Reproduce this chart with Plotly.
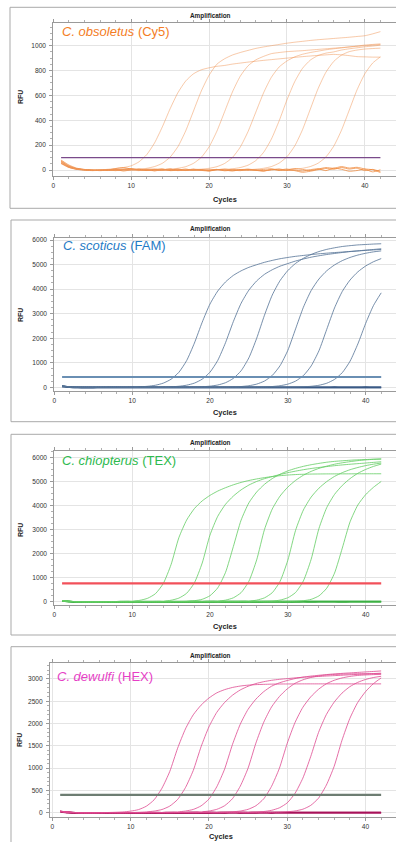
import plotly.graph_objects as go

W, H = 396, 842
FONT = "Liberation Sans, Arial, sans-serif"

CYCLES = [1, 2, 3, 4, 5, 6, 7, 8, 9, 10, 11, 12, 13, 14, 15, 16, 17, 18, 19, 20, 21,
          22, 23, 24, 25, 26, 27, 28, 29, 30, 31, 32, 33, 34, 35, 36, 37, 38, 39, 40, 41, 42]

# ---------------- Panel 1: C. obsoletus (Cy5) ----------------
CY5_1 = [75, 35, 12, 4, 0, 0, 6, 12, 20, 34, 66, 124, 218, 347, 493, 622, 716, 774, 806, 822, 834,
         841, 852, 860, 868, 875, 882, 888, 894, 900, 906, 912, 917, 922, 926, 930, 926, 920, 912, 910, 908, 908]
CY5_2 = [60, 25, 8, 2, -2, 0, -4, 3, 2, 4, 7, 14, 28, 54, 104, 188, 315, 475, 635, 762, 851,
         895, 925, 945, 962, 978, 990, 1000, 1010, 1020, 1028, 1035, 1042, 1048, 1053, 1058, 1063, 1068, 1074, 1080, 1095, 1113]
CY5_3 = [50, 20, 5, 0, -5, -2, 0, -3, 5, 8, 2, -4, 6, 3, 7, 14, 27, 54, 102, 186, 312,
         470, 628, 754, 838, 886, 914, 936, 945, 952, 956, 960, 965, 970, 975, 980, 985, 990, 995, 1000, 1005, 1010]
CY5_4 = [65, 28, 10, 3, -1, -3, 2, 6, -2, 4, 10, 3, -5, 2, 8, -3, 0, 4, 7, 14, 27,
         53, 101, 184, 309, 465, 621, 746, 829, 877, 910, 931, 945, 956, 967, 975, 982, 990, 997, 1005, 1010, 1015]
CY5_5 = [70, 30, 9, 2, 0, -4, 0, 4, 10, -2, 5, 0, -6, 4, 2, 9, -2, 3, -4, 6, 0,
         5, 10, 20, 39, 76, 142, 249, 396, 564, 711, 818, 884, 921, 940, 950, 965, 975, 983, 991, 997, 1004]
CY5_6 = [55, 22, 7, 1, -3, 1, -2, 5, 0, 3, -5, 8, 2, -3, 5, 0, -4, 7, 1, -6, 3,
         0, 6, -3, 2, 7, 14, 28, 56, 107, 194, 325, 490, 655, 786, 873, 924, 952, 965, 973, 977, 980]
CY5_7 = [62, 26, 9, 2, -2, 0, 3, -1, 6, 2, -4, 5, 9, -2, 4, -5, 2, 6, -3, 0, 5,
         -4, 2, -2, 8, 0, -6, 4, 10, -3, 7, 14, 28, 55, 105, 191, 320, 482, 645, 774, 860, 910]
CY5_NTC_1 = [70, 30, 10, 3, -2, 0, -3, 5, -8, 2, 6, -4, 3, 10, -5, 0, 8, -3, 2, -6, 4,
             0, -8, 3, 6, -2, -10, 5, 0, 8, -5, -18, -10, 3, 12, 6, 20, 8, 15, -5, 5, -12]
CY5_NTC_2 = [55, 22, 6, 0, -4, -2, 2, -5, 4, 12, 0, 5, -6, 2, 8, -4, 0, 6, -3, -8, 2,
             8, 0, -5, 4, -2, 5, 10, -4, 2, 12, 5, -4, 8, 20, 14, 28, 16, 22, 8, -15, 2]
CY5_NTC_3 = [80, 40, 15, 5, 0, -5, 0, 12, 20, 8, 2, -3, 4, 0, -2, 6, -4, 0, 3, -2, 5,
             -6, 0, 4, -3, 2, -5, 0, 6, -4, 0, -8, 3, 10, -5, 15, 6, -10, -4, 8, 2, -20]
CY5_THRESHOLD = 100

# ---------------- Panel 2: C. scoticus (FAM) ----------------
FAM_1 = [60, 15, 2, -3, -5, -4, -2, 0, 3, 11, 21, 42, 85, 170, 329, 610, 1087, 1802, 2650, 3392, 3922,
         4293, 4558, 4744, 4887, 4993, 5091, 5169, 5237, 5289, 5335, 5371, 5407, 5438, 5464, 5489, 5509, 5534, 5555, 5575, 5595, 5615]
FAM_2 = [55, 12, 0, -4, -6, -3, -1, 2, 0, -2, 3, 5, 8, 11, 21, 43, 86, 171, 332, 615, 1097,
         1819, 2675, 3424, 3959, 4334, 4601, 4788, 4933, 5040, 5144, 5227, 5300, 5357, 5409, 5451, 5492, 5528, 5558, 5589, 5614, 5644]
FAM_3 = [45, 10, -2, -5, -3, 0, 2, -1, -4, -2, 1, 3, 0, -2, 3, 6, 9, 12, 23, 47, 94,
         188, 364, 675, 1203, 1996, 2935, 3757, 4344, 4755, 5048, 5254, 5412, 5530, 5618, 5682, 5735, 5770, 5800, 5817, 5835, 5847]
FAM_4 = [50, 12, 0, -3, -5, -2, 1, 0, -3, -1, 2, 0, -2, 1, 3, 0, -2, 2, 4, 6, 8,
         10, 17, 32, 65, 130, 255, 482, 879, 1503, 2381, 3260, 3941, 4411, 4746, 4984, 5160, 5290, 5387, 5460, 5517, 5557]
FAM_5 = [48, 10, -1, -4, -4, -2, 0, 1, -2, 0, 2, 1, -1, -3, 0, 2, 1, -1, 0, 2, 1,
         3, 2, 4, 6, 10, 17, 32, 65, 129, 253, 478, 871, 1489, 2360, 3232, 3906, 4372, 4704, 4940, 5114, 5243]
FAM_6 = [52, 14, 1, -3, -5, -3, -1, 0, -2, 1, 2, 0, -1, -2, 1, 3, 1, 0, -2, 0, 2,
         1, 0, 2, 3, 1, 2, 4, 5, 7, 10, 21, 42, 83, 166, 322, 598, 1066, 1768, 2600, 3328, 3848]
FAM_NTC_1 = [40, 8, -3, -6, -5, -4, -3, -2, -3, -2, -1, -2, -3, -2, -1, -2, -3, -2, -1, -2, -1,
             -2, -3, -2, -1, 0, -1, -2, -1, 0, 1, 0, -1, 0, 1, 2, 1, 0, 1, 2, 1, 0]
FAM_NTC_2 = [35, 5, -5, -8, -7, -6, -5, -5, -4, -4, -5, -4, -3, -4, -5, -4, -3, -4, -3, -2, -3,
             -4, -3, -2, -3, -2, -1, -2, -3, -2, -1, -2, -1, 0, -1, -2, -1, 0, -1, 0, 1, 0]
FAM_THRESHOLD = 420

# ---------------- Panel 3: C. chiopterus (TEX) ----------------
TEX_1 = [40, 12, 2, -2, -3, -1, 2, 5, 11, 21, 59, 144, 336, 757, 1546, 2665, 3400, 3880, 4200, 4430, 4610,
         4750, 4870, 4970, 5050, 5115, 5170, 5215, 5250, 5278, 5298, 5310, 5318, 5322, 5325, 5326, 5327, 5328, 5329, 5330, 5330, 5330]
TEX_2 = [45, 14, 3, -1, -3, -2, 0, 2, 1, 3, 4, 6, 11, 22, 61, 150, 350, 788, 1610, 2775, 3560,
         4060, 4400, 4660, 4860, 5010, 5125, 5215, 5300, 5375, 5440, 5500, 5550, 5593, 5630, 5667, 5699, 5727, 5753, 5778, 5805, 5830]
TEX_3 = [42, 12, 2, -2, -4, -2, 0, 1, -1, 0, 2, 1, 3, 4, 6, 9, 18, 42, 101, 250, 578,
         1222, 2295, 3400, 4120, 4570, 4890, 5130, 5310, 5450, 5555, 5640, 5708, 5763, 5811, 5847, 5871, 5894, 5912, 5924, 5936, 5942]
TEX_4 = [44, 13, 2, -3, -4, -2, 0, 2, 0, -1, 1, 3, 2, 0, 1, 3, 4, 5, 6, 12, 24,
         66, 162, 379, 853, 1743, 3005, 3860, 4400, 4775, 5055, 5270, 5430, 5555, 5649, 5728, 5788, 5836, 5878, 5908, 5932, 5950]
TEX_5 = [46, 14, 3, -2, -3, -1, 1, 0, -2, 0, 2, 1, -1, 0, 2, 3, 1, 2, 4, 3, 5,
         4, 6, 12, 24, 65, 161, 375, 845, 1726, 2975, 3820, 4360, 4730, 5005, 5220, 5378, 5500, 5593, 5670, 5730, 5777]
TEX_6 = [43, 12, 1, -3, -4, -3, -1, 1, 0, -2, 0, 2, 1, 0, 2, 1, 3, 2, 1, 3, 4,
         2, 3, 4, 5, 6, 12, 24, 67, 165, 384, 866, 1769, 3050, 3920, 4470, 4845, 5130, 5350, 5510, 5637, 5734]
TEX_7 = [41, 11, 1, -3, -5, -3, -2, 0, 1, -1, 0, 2, 0, -1, 1, 2, 0, 1, 3, 2, 1,
         3, 2, 4, 3, 5, 4, 6, 7, 9, 17, 41, 99, 244, 563, 1189, 2233, 3330, 4030, 4460, 4765, 5011]
TEX_NTC_1 = [38, 6, -4, -6, -5, -4, -3, -3, -2, -3, -2, -1, -2, -3, -2, -1, -2, -1, -2, -1, 0,
             -1, -2, -1, 0, -1, 0, 1, 0, -1, 0, 1, 2, 1, 0, 1, 2, 1, 2, 1, 2, 1]
TEX_NTC_2 = [32, 4, -6, -8, -7, -6, -6, -5, -5, -4, -5, -4, -3, -4, -3, -4, -3, -2, -3, -2, -3,
             -2, -1, -2, -3, -2, -1, -2, -1, 0, -1, 0, -1, 0, 1, 0, -1, 0, 1, 0, 1, 0]
TEX_THRESHOLD = 760

# ---------------- Panel 4: C. dewulfi (HEX) ----------------
HEX_1 = [30, 10, 2, -1, 0, 2, 4, 9, 17, 35, 69, 145, 289, 549, 925, 1445, 1879, 2196, 2413, 2572, 2688,
         2760, 2809, 2841, 2861, 2873, 2879, 2884, 2887, 2888, 2889, 2890, 2890, 2890, 2890, 2890, 2890, 2890, 2890, 2890, 2890, 2890]
HEX_2 = [32, 11, 2, -2, -1, 0, 1, 2, 3, 4, 9, 18, 36, 71, 148, 296, 562, 947, 1480, 1924, 2250,
         2472, 2634, 2753, 2836, 2897, 2939, 2970, 2992, 3008, 3024, 3038, 3047, 3056, 3066, 3075, 3084, 3094, 3103, 3112, 3121, 3130]
HEX_3 = [28, 9, 1, -2, -2, 0, 1, 0, 2, 1, 2, 3, 4, 5, 9, 18, 37, 73, 153, 305, 580,
         976, 1525, 1983, 2318, 2547, 2715, 2837, 2913, 2965, 3009, 3041, 3064, 3082, 3098, 3114, 3125, 3136, 3147, 3158, 3169, 3180]
HEX_4 = [30, 10, 1, -2, -1, 0, 2, 1, 0, 2, 1, 3, 2, 3, 4, 4, 5, 9, 19, 37, 75,
         156, 312, 593, 998, 1560, 2028, 2371, 2605, 2777, 2902, 2980, 3033, 3067, 3089, 3101, 3108, 3114, 3117, 3117, 3118, 3118]
HEX_5 = [29, 9, 1, -2, -2, -1, 1, 0, 1, 2, 0, 1, 3, 2, 1, 3, 4, 3, 4, 5, 5,
         9, 19, 37, 75, 156, 311, 591, 995, 1555, 2022, 2364, 2597, 2768, 2892, 2970, 3023, 3057, 3079, 3091, 3098, 3104]
HEX_6 = [31, 10, 2, -1, -2, 0, 1, 2, 0, 1, 2, 1, 3, 2, 2, 4, 3, 2, 4, 5, 4,
         5, 6, 5, 6, 13, 26, 53, 109, 220, 434, 775, 1256, 1798, 2201, 2480, 2682, 2827, 2923, 2988, 3032, 3060]
HEX_7 = [30, 9, 1, -2, -1, 0, 2, 1, 0, 2, 1, 2, 3, 1, 2, 4, 3, 2, 3, 4, 5,
         3, 4, 5, 6, 4, 5, 5, 10, 20, 39, 78, 163, 325, 618, 1040, 1625, 2113, 2470, 2714, 2893, 3023]
HEX_NTC_1 = [30, 6, -3, -5, -4, -4, -3, -3, -2, -3, -2, -2, -1, -2, -1, -2, -1, -1, -2, -1, 0,
             -1, 0, -1, 0, 1, 0, -1, 0, 1, 0, 1, 2, 1, 0, 1, 2, 1, 2, 3, 2, 3]
HEX_NTC_2 = [26, 4, -5, -7, -6, -5, -5, -4, -4, -3, -4, -3, -3, -2, -3, -2, -2, -1, -2, -1, -2,
             -1, 0, -1, -2, -1, 0, -1, 0, 1, 0, 0, 1, 0, 1, 2, 1, 0, 1, 2, 1, 2]
HEX_THRESHOLD = 400

Y_TICKS_CY5 = [0, 200, 400, 600, 800, 1000]
Y_TICKS_FAM = [0, 1000, 2000, 3000, 4000, 5000, 6000]
Y_TICKS_TEX = [0, 1000, 2000, 3000, 4000, 5000, 6000]
Y_TICKS_HEX = [0, 500, 1000, 1500, 2000, 2500, 3000]
X_TICKS = [0, 10, 20, 30, 40]


def px(x):
    return x / W


def py(y):
    return 1 - y / H


panels = [
    dict(curves=[CY5_1, CY5_2, CY5_3, CY5_4, CY5_5, CY5_6, CY5_7],
         ntc=[CY5_NTC_1, CY5_NTC_2, CY5_NTC_3], thr=CY5_THRESHOLD,
         ccol="rgba(242,150,85,0.5)", ncol="rgba(240,130,45,0.7)", nw=1.0,
         tcol="#7a4a8a", tw=1.2,
         left=53.3, top=23.3, bottom=176.0, xr=[0, 44.0], yr=[-48, 1180],
         yticks=Y_TICKS_CY5, yminor=50,
         box=(10, 7.3, 208.3), title_y=15.5, rfu=(20, 97), cyc=(225, 199.5),
         label=("<i>C. obsoletus</i> (Cy5)", "#f47d24", 60, 31)),
    dict(curves=[FAM_1, FAM_2, FAM_3, FAM_4, FAM_5, FAM_6],
         ntc=[FAM_NTC_1, FAM_NTC_2], thr=FAM_THRESHOLD,
         ccol="rgba(85,115,150,0.8)", ncol="#3a5a85", nw=1.8,
         tcol="#6a8fb3", tw=2.2,
         left=54.3, top=237.7, bottom=390.7, xr=[0, 43.9], yr=[-138, 6094],
         yticks=Y_TICKS_FAM, yminor=250,
         box=(11, 220.0, 421.7), title_y=228.5, rfu=(20, 315), cyc=(225, 412),
         label=("<i>C. scoticus</i> (FAM)", "#1f7bc6", 60.5, 246)),
    dict(curves=[TEX_1, TEX_2, TEX_3, TEX_4, TEX_5, TEX_6, TEX_7],
         ntc=[TEX_NTC_1, TEX_NTC_2], thr=TEX_THRESHOLD,
         ccol="rgba(100,205,100,0.8)", ncol="#3cb043", nw=1.8,
         tcol="#f2505a", tw=2.2,
         left=54.3, top=451.0, bottom=605.0, xr=[0, 43.9], yr=[-137, 6279],
         yticks=Y_TICKS_TEX, yminor=250,
         box=(11, 434.3, 635.0), title_y=442.5, rfu=(20, 530), cyc=(225, 626),
         label=("<i>C. chiopterus</i> (TEX)", "#2dba4e", 60, 460)),
    dict(curves=[HEX_1, HEX_2, HEX_3, HEX_4, HEX_5, HEX_6, HEX_7],
         ntc=[HEX_NTC_1, HEX_NTC_2], thr=HEX_THRESHOLD,
         ccol="rgba(222,75,145,0.8)", ncol="#a8125a", nw=1.8,
         tcol="#6d7d72", tw=2.2,
         left=50.0, top=662.7, bottom=816.7, xr=[-0.3, 43.9], yr=[-90, 3365],
         yticks=Y_TICKS_HEX, yminor=100,
         box=(11, 646.7, 850.0), title_y=655.5, rfu=(19, 740), cyc=(221, 836.5),
         label=("<i>C. dewulfi</i> (HEX)", "#e63fc6", 55, 676)),
]

fig = go.Figure()
shapes = []
annotations = []
layout_axes = {}

for i, p in enumerate(panels, start=1):
    xa = "x" if i == 1 else f"x{i}"
    ya = "y" if i == 1 else f"y{i}"
    xkey = "xaxis" if i == 1 else f"xaxis{i}"
    ykey = "yaxis" if i == 1 else f"yaxis{i}"

    for vals in p["ntc"]:
        fig.add_trace(go.Scatter(x=CYCLES, y=vals, mode="lines", xaxis=xa, yaxis=ya,
                                 line=dict(color=p["ncol"], width=p["nw"], shape="spline", smoothing=0.5),
                                 showlegend=False, hoverinfo="skip"))
    for vals in p["curves"]:
        fig.add_trace(go.Scatter(x=CYCLES, y=vals, mode="lines", xaxis=xa, yaxis=ya,
                                 line=dict(color=p["ccol"], width=1.0, shape="spline", smoothing=0.6),
                                 showlegend=False, hoverinfo="skip"))
    fig.add_trace(go.Scatter(x=[CYCLES[0], CYCLES[-1]], y=[p["thr"], p["thr"]], mode="lines",
                             xaxis=xa, yaxis=ya, line=dict(color=p["tcol"], width=p["tw"]),
                             showlegend=False, hoverinfo="skip"))

    tickfont = dict(family=FONT, size=6.6, color="#333333")
    layout_axes[xkey] = dict(
        domain=[px(p["left"]), 1.0], range=p["xr"], anchor=ya,
        tickvals=X_TICKS, ticks="outside", ticklen=3, tickcolor="#9a9a9a", tickfont=tickfont,
        showline=True, linecolor="#9a9a9a", linewidth=1, mirror="ticks",
        showgrid=True, gridcolor="#e4e4e4", gridwidth=1, zeroline=False,
        minor=dict(dtick=2, ticks="outside", ticklen=2, tickcolor="#b0b0b0", showgrid=False),
        automargin=False, fixedrange=True,
    )
    layout_axes[ykey] = dict(
        domain=[py(p["bottom"]), py(p["top"])], range=p["yr"], anchor=xa,
        tickvals=p["yticks"], ticks="outside", ticklen=3, tickcolor="#9a9a9a", tickfont=tickfont,
        showline=True, linecolor="#9a9a9a", linewidth=1, mirror=False,
        showgrid=True, gridcolor="#e4e4e4", gridwidth=1, zeroline=False,
        minor=dict(dtick=p["yminor"], ticks="outside", ticklen=2, tickcolor="#b0b0b0", showgrid=False),
        ticklabelstandoff=2,
        automargin=False, fixedrange=True,
    )

    bx, bt, bb = p["box"]
    shapes.append(dict(type="rect", xref="paper", yref="paper",
                       x0=px(bx), x1=px(W + 20), y0=py(bb), y1=py(bt),
                       line=dict(color="#a9a9a9", width=1), fillcolor="rgba(0,0,0,0)", layer="below"))

    annotations.append(dict(text="<b>Amplification</b>", x=px(210), y=py(p["title_y"]),
                            xref="paper", yref="paper", showarrow=False, xanchor="center", yanchor="middle",
                            font=dict(family=FONT, size=6.4, color="#222222")))
    annotations.append(dict(text="<b>RFU</b>", x=px(p["rfu"][0]), y=py(p["rfu"][1]), textangle=-90,
                            xref="paper", yref="paper", showarrow=False, xanchor="center", yanchor="middle",
                            font=dict(family=FONT, size=7, color="#222222")))
    annotations.append(dict(text="<b>Cycles</b>", x=px(p["cyc"][0]), y=py(p["cyc"][1]),
                            xref="paper", yref="paper", showarrow=False, xanchor="center", yanchor="middle",
                            font=dict(family=FONT, size=7.4, color="#222222")))
    txt, col, lx, ly = p["label"]
    annotations.append(dict(text=txt, x=px(lx), y=py(ly), xref="paper", yref="paper", showarrow=False,
                            xanchor="left", yanchor="middle",
                            font=dict(family=FONT, size=13, color=col)))

fig.update_layout(
    width=W, height=H, autosize=False,
    margin=dict(l=0, r=0, t=0, b=0, pad=0),
    paper_bgcolor="white", plot_bgcolor="white",
    showlegend=False,
    shapes=shapes, annotations=annotations,
    **layout_axes,
)

fig.write_html(
    "out.html",
    config={"displayModeBar": False, "staticPlot": True},
    post_script="document.body.style.margin='0';document.body.style.padding='0';"
                "document.body.style.overflow='hidden';",
)
